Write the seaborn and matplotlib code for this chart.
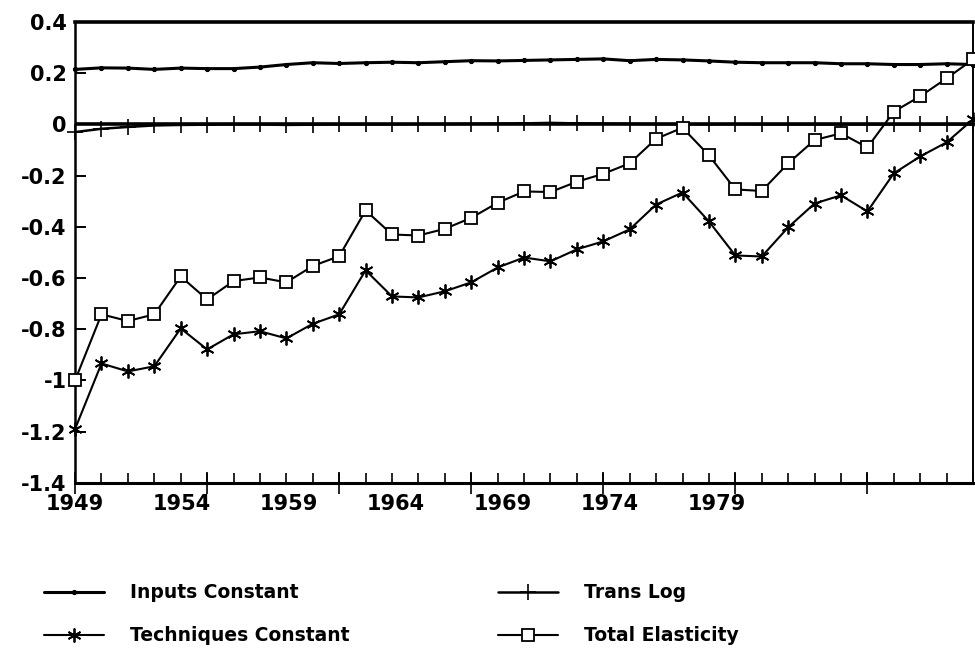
import numpy as np
import pandas as pd
import matplotlib
matplotlib.use("Agg")
import matplotlib.pyplot as plt
import seaborn as sns
from matplotlib.ticker import MultipleLocator

# years 1949..1983
years = list(range(1949, 1984))

inputs_constant = [
    0.215, 0.221, 0.220, 0.215, 0.220, 0.218, 0.218, 0.224, 0.234, 0.241,
    0.238, 0.241, 0.243, 0.241, 0.245, 0.249, 0.248, 0.250, 0.252, 0.254,
    0.256, 0.249, 0.254, 0.252, 0.248, 0.243, 0.241, 0.241, 0.241, 0.237,
    0.237, 0.234, 0.234, 0.237, 0.234,
]
trans_log = [
    -0.030, -0.017, -0.010, -0.004, -0.002, -0.001, 0.000, 0.000, -0.002, -0.001,
    0.000, 0.000, 0.000, 0.001, 0.001, 0.002, 0.003, 0.004, 0.006, 0.004,
    0.003, 0.002, 0.001, 0.001, 0.000, 0.001, 0.000, 0.000, 0.000, 0.000,
    0.000, 0.000, 0.000, 0.000, 0.000,
]
techniques_constant = [
    -1.190, -0.934, -0.965, -0.945, -0.797, -0.879, -0.820, -0.808, -0.836, -0.779,
    -0.742, -0.570, -0.672, -0.676, -0.652, -0.617, -0.559, -0.520, -0.535, -0.488,
    -0.457, -0.410, -0.313, -0.266, -0.379, -0.512, -0.516, -0.402, -0.309, -0.277,
    -0.340, -0.191, -0.125, -0.070, 0.020,
]
total_elasticity = [
    -1.000, -0.742, -0.768, -0.742, -0.594, -0.684, -0.612, -0.598, -0.617, -0.553,
    -0.515, -0.336, -0.430, -0.434, -0.408, -0.365, -0.306, -0.262, -0.264, -0.224,
    -0.193, -0.152, -0.056, -0.013, -0.121, -0.254, -0.260, -0.152, -0.061, -0.035,
    -0.090, 0.050, 0.110, 0.180, 0.254,
]

label_years = [1949, 1954, 1959, 1964, 1969, 1974, 1979]
y_ticks = [0.4, 0.2, 0, -0.2, -0.4, -0.6, -0.8, -1, -1.2, -1.4]
y_labels = ["0.4", "0.2", "0", "-0.2", "-0.4", "-0.6", "-0.8", "-1", "-1.2", "-1.4"]

df = pd.DataFrame({
    "year": years * 4,
    "value": inputs_constant + techniques_constant + trans_log + total_elasticity,
    "series": (["Inputs Constant"] * len(years) + ["Techniques Constant"] * len(years)
               + ["Trans Log"] * len(years) + ["Total Elasticity"] * len(years)),
})

sns.set_style("white")
plt.rcParams["font.family"] = ["DejaVu Sans"]
plt.rcParams["font.weight"] = "bold"
for key in ["text.color", "axes.labelcolor", "xtick.color", "ytick.color", "axes.edgecolor"]:
    plt.rcParams[key] = "black"

fig = plt.figure(figsize=(9.75, 6.48), dpi=100)
ax = fig.add_axes([0.077, 0.255, 0.921, 0.711])

styles = {
    "Inputs Constant": dict(marker="o", markersize=3, linewidth=2.2),
    "Techniques Constant": dict(marker=(6, 2, 0), markersize=10, linewidth=1.5, markeredgewidth=1.3),
    "Trans Log": dict(marker="+", markersize=11, linewidth=1.8, markeredgewidth=1.2),
    "Total Elasticity": dict(marker="s", markersize=8.5, linewidth=1.5, markerfacecolor="white",
                             markeredgewidth=1.3),
}
for name in ["Inputs Constant", "Techniques Constant", "Trans Log", "Total Elasticity"]:
    sub = df[df["series"] == name]
    sns.lineplot(data=sub, x="year", y="value", ax=ax, color="black", label=name,
                 markeredgecolor="black", clip_on=False, zorder=3, **styles[name])

ax.axhline(0, color="black", linewidth=2.6, zorder=2)

ax.set_xlim(1949, 1983)
ax.set_ylim(-1.4, 0.4)

ax.spines["top"].set_linewidth(2.6)
ax.spines["bottom"].set_linewidth(2.2)
ax.spines["left"].set_linewidth(1.8)
ax.spines["right"].set_linewidth(1.4)

# printed tick labels sit at a narrower pitch than the year grid
label_pos = [1949 + (y - 1949) * 0.81 for y in label_years]
ax.set_xticks(label_pos)
ax.set_xticklabels([str(y) for y in label_years], fontsize=15, fontweight="bold")
ax.tick_params(axis="x", which="major", length=0, pad=8)
ax.xaxis.set_minor_locator(MultipleLocator(1))
ax.tick_params(axis="x", which="minor", direction="in", length=7, width=1.2, bottom=True)

sec = ax.secondary_xaxis("bottom")
sec.set_xticks(list(range(1949, 1984, 5)))
sec.set_xticklabels([])
sec.tick_params(direction="inout", length=16, width=1.2)
sec.spines["bottom"].set_visible(False)

ax.set_yticks(y_ticks)
ax.set_yticklabels(y_labels, fontsize=15, fontweight="bold")
ax.tick_params(axis="y", direction="in", length=8, width=1.4, left=True, pad=6)

ax.set_xlabel("")
ax.set_ylabel("")

handles, labels = ax.get_legend_handles_labels()
ax.legend_.remove()
fig.legend(handles, labels, ncol=2, loc="lower left", bbox_to_anchor=(0.028, -0.022),
           frameon=False, handlelength=3.2, columnspacing=7.9,
           labelspacing=1.28, handletextpad=1.4, prop={"weight": "bold", "size": 13.5})

fig.savefig("out.png", dpi=100)
